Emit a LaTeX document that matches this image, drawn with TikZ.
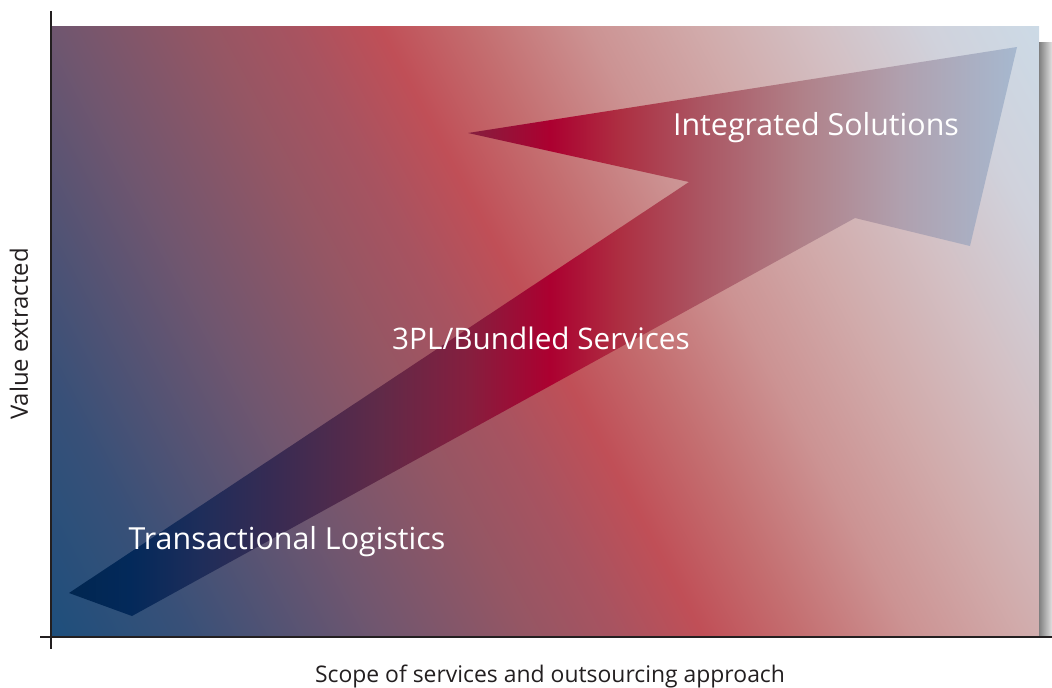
\documentclass[tikz,border=0pt]{standalone}
\usepackage{fontspec}
\setmainfont{Open Sans}

% axis ink
\definecolor{axisink}{HTML}{231F20}

% background field colours (lower left to upper right)
\definecolor{fA}{HTML}{1E4F7C}
\definecolor{fB}{HTML}{385078}
\definecolor{fC}{HTML}{70566F}
\definecolor{fD}{HTML}{955664}
\definecolor{fE}{HTML}{A85360}
\definecolor{fF}{HTML}{C04F57}
\definecolor{fG}{HTML}{C46E70}
\definecolor{fH}{HTML}{CC9393}
\definecolor{fI}{HTML}{D1ABAB}
\definecolor{fJ}{HTML}{D3C0C4}
\definecolor{fK}{HTML}{D0D2DC}
\definecolor{fL}{HTML}{CCDAE6}

% arrow colours (left to right)
\definecolor{aA}{HTML}{00264F}
\definecolor{aB}{HTML}{03295A}
\definecolor{aC}{HTML}{1E2D5A}
\definecolor{aD}{HTML}{3A2B52}
\definecolor{aE}{HTML}{602A48}
\definecolor{aF}{HTML}{861E3E}
\definecolor{aG}{HTML}{AC0030}
\definecolor{aH}{HTML}{AD2F42}
\definecolor{aI}{HTML}{AB5562}
\definecolor{aJ}{HTML}{B08088}
\definecolor{aK}{HTML}{B0A0AE}
\definecolor{aL}{HTML}{A6B9D0}

\pgfdeclarehorizontalshading{fieldshade}{1100bp}{%
  color(0bp)=(fA); color(21bp)=(fA); color(141bp)=(fB); color(311bp)=(fC);
  color(441bp)=(fD); color(521bp)=(fE); color(597bp)=(fF); color(681bp)=(fG);
  color(781bp)=(fH); color(881bp)=(fI); color(981bp)=(fJ); color(1081bp)=(fK);
  color(1179bp)=(fL); color(1200bp)=(fL)}

\pgfdeclarehorizontalshading{arrowshade}{600bp}{%
  color(0bp)=(aA); color(70bp)=(aB); color(140bp)=(aC); color(220bp)=(aD);
  color(320bp)=(aE); color(410bp)=(aF); color(490bp)=(aG); color(560bp)=(aH);
  color(640bp)=(aI); color(740bp)=(aJ); color(840bp)=(aK); color(960bp)=(aL)}

\tikzset{
  axisline/.style={draw=axisink, line width=2bp},
  bandlabel/.style={text=white, inner sep=0pt, font=\fontsize{30.5}{36}\selectfont},
  axislabel/.style={text=axisink, inner sep=0pt, font=\fontsize{23}{28}\selectfont},
}

\begin{document}
\begin{tikzpicture}[x=1bp, y=-1bp]
  \useasboundingbox (0,0) rectangle (1052,688);

  % plotting field
  \coordinate (fieldNW) at (52,27);
  \coordinate (fieldSE) at (1039,636);
  \begin{scope}
    \clip (fieldNW) rectangle (fieldSE);
    \node[rotate=28, inner sep=0pt, outer sep=0pt] (field) at (545.5,331.5)
      {\pgfuseshading{fieldshade}};
  \end{scope}

  % drop shadow on the right edge
  \coordinate (shadowNW) at (1039,43);
  \coordinate (shadowSE) at (1052,636);
  \shade[left color=black!50, right color=black!12] (shadowNW) rectangle (shadowSE);

  % growth arrow
  \coordinate (tailL) at (69,593);
  \coordinate (notchU) at (689,182);
  \coordinate (barbL) at (468,133);
  \coordinate (tip) at (1017,47);
  \coordinate (barbR) at (970,246);
  \coordinate (notchL) at (855,218);
  \coordinate (tailB) at (132,616);
  \begin{scope}
    \clip (tailL) -- (notchU) -- (barbL) -- (tip) -- (barbR) -- (notchL) -- (tailB) -- cycle;
    \node[inner sep=0pt, outer sep=0pt, anchor=south west] (arrowfill) at (60,630)
      {\pgfuseshading{arrowshade}};
  \end{scope}

  % stage labels
  \node[bandlabel] (integrated) at (816,128) {Integrated Solutions};
  \node[bandlabel, font=\fontsize{29.8}{36}\selectfont] (bundled) at (541,338) {3PL/Bundled Services};
  \node[bandlabel] (transactional) at (287,542) {Transactional Logistics};

  % axes
  \coordinate (ytop) at (51,11);
  \coordinate (ybot) at (51,649);
  \coordinate (xleft) at (40,637);
  \coordinate (xright) at (1052,637);
  \draw[axisline] (ytop) -- (ybot);
  \draw[axisline] (xleft) -- (xright);

  % axis titles
  \node[axislabel] (xtitle) at (550,676) {Scope of services and outsourcing approach};
  \node[axislabel, rotate=90, font=\fontsize{24}{29}\selectfont] (ytitle) at (19,334) {Value extracted};
\end{tikzpicture}
\end{document}
